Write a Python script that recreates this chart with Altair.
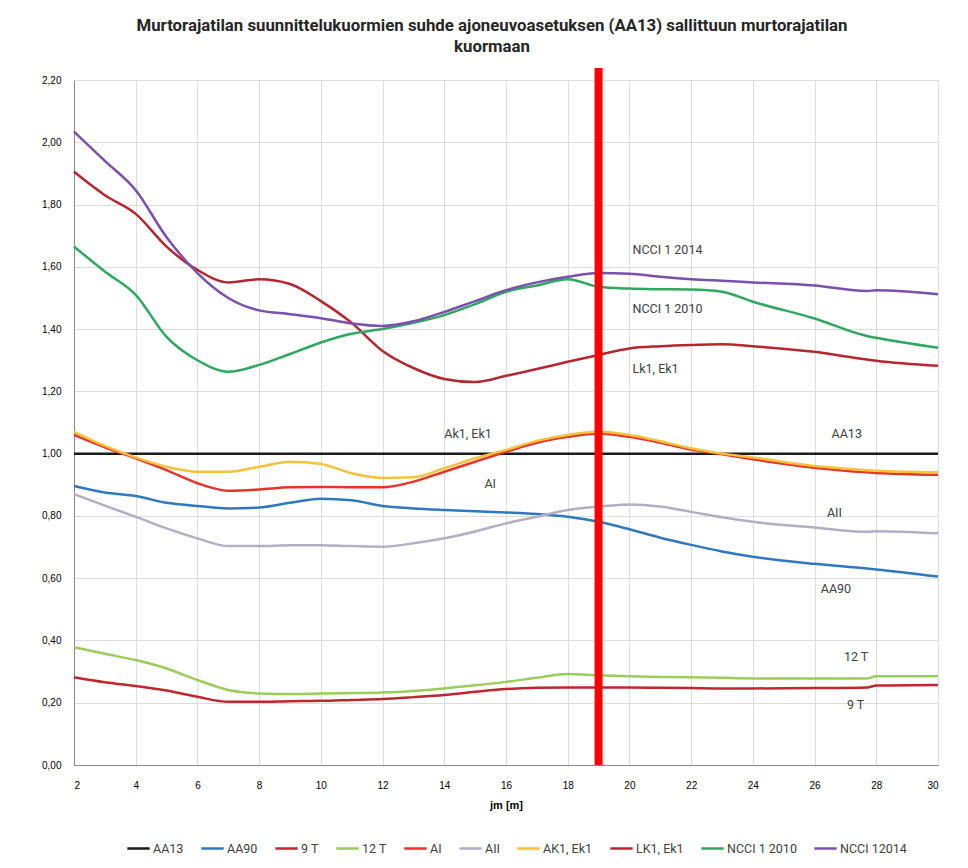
import altair as alt
import pandas as pd

# ---- data ----
x_m = [2, 3, 4, 5, 6, 7, 8, 9, 10, 11, 12, 13, 14, 15, 16, 17, 18, 19, 20, 21, 22, 23, 24, 26, 27.7, 28, 30]

series_names = ["AA13", "AA90", "9 T", "12 T", "AI", "AII", "AK1, Ek1", "LK1, Ek1", "NCCI 1 2010", "NCCI 12014"]
series_colors = ["#1a1a1a", "#2e78c0", "#c0272d", "#9acd5a", "#e8332a", "#b4aec4", "#f7c23a", "#b5262e", "#2ea85f", "#7b4fae"]

aa13 = [1.0] * 27
aa90 = [0.896, 0.875, 0.864, 0.842, 0.832, 0.824, 0.827, 0.842, 0.855, 0.85, 0.832, 0.824, 0.819, 0.815,
        0.811, 0.806, 0.797, 0.781, 0.757, 0.73, 0.707, 0.686, 0.669, 0.646, 0.631, 0.628, 0.605]
t9 = [0.282, 0.266, 0.254, 0.239, 0.219, 0.203, 0.203, 0.205, 0.206, 0.209, 0.212, 0.218, 0.225, 0.235,
      0.244, 0.248, 0.249, 0.249, 0.249, 0.248, 0.247, 0.246, 0.246, 0.247, 0.249, 0.255, 0.257]
t12 = [0.378, 0.357, 0.337, 0.31, 0.273, 0.241, 0.23, 0.228, 0.23, 0.231, 0.233, 0.238, 0.246, 0.256,
       0.267, 0.28, 0.292, 0.288, 0.285, 0.283, 0.282, 0.28, 0.278, 0.278, 0.278, 0.285, 0.285]
ai = [1.06, 1.02, 0.985, 0.947, 0.905, 0.881, 0.885, 0.892, 0.893, 0.892, 0.892, 0.91, 0.942, 0.974,
      1.006, 1.035, 1.054, 1.065, 1.054, 1.035, 1.013, 0.998, 0.982, 0.955, 0.94, 0.938, 0.932]
aii = [0.87, 0.833, 0.797, 0.76, 0.728, 0.703, 0.703, 0.706, 0.706, 0.703, 0.701, 0.712, 0.728, 0.75,
       0.776, 0.797, 0.819, 0.83, 0.837, 0.83, 0.813, 0.796, 0.781, 0.763, 0.749, 0.751, 0.744]
ak1 = [1.07, 1.025, 0.988, 0.958, 0.942, 0.942, 0.958, 0.974, 0.967, 0.937, 0.922, 0.924, 0.953, 0.985,
       1.012, 1.041, 1.06, 1.07, 1.06, 1.04, 1.017, 1.0, 0.988, 0.96, 0.947, 0.945, 0.94]
lk1 = [1.905, 1.83, 1.77, 1.665, 1.59, 1.55, 1.56, 1.545, 1.49, 1.42, 1.33, 1.275, 1.24, 1.23,
       1.25, 1.272, 1.295, 1.317, 1.338, 1.345, 1.349, 1.351, 1.345, 1.327, 1.302, 1.298, 1.282]
ncci2010 = [1.665, 1.585, 1.51, 1.375, 1.3, 1.263, 1.285, 1.32, 1.357, 1.385, 1.40, 1.42, 1.445, 1.48,
            1.52, 1.54, 1.56, 1.536, 1.53, 1.528, 1.527, 1.52, 1.488, 1.434, 1.378, 1.372, 1.34]
ncci2014 = [2.034, 1.94, 1.846, 1.695, 1.58, 1.50, 1.46, 1.448, 1.435, 1.418, 1.41, 1.425, 1.455, 1.49,
            1.525, 1.55, 1.568, 1.58, 1.578, 1.568, 1.56, 1.555, 1.55, 1.54, 1.522, 1.525, 1.512]

series_values = [aa13, aa90, t9, t12, ai, aii, ak1, lk1, ncci2010, ncci2014]

label_texts = ["NCCI 1 2014", "NCCI 1 2010", "Lk1, Ek1", "Ak1, Ek1", "AA13", "AI", "AII", "AA90", "12 T", "9 T"]
label_x = [20.1, 20.1, 20.1, 14.0, 26.55, 15.3, 26.4, 26.2, 26.95, 27.05]
label_y = [1.655, 1.465, 1.272, 1.062, 1.062, 0.902, 0.808, 0.565, 0.347, 0.193]

marker_x = [19]

title_lines = ["Murtorajatilan  suunnittelukuormien suhde ajoneuvoasetuksen (AA13) sallittuun murtorajatilan",
               "kuormaan"]

# ---- build tables ----
rows = []
for si, (name, vals) in enumerate(zip(series_names, series_values)):
    for xv, yv in zip(x_m, vals):
        rows.append({"series": name, "order": si, "jm": xv, "ratio": yv})
df = pd.DataFrame(rows)
labels_df = pd.DataFrame({"text": label_texts, "jm": label_x, "ratio": label_y})
marker_df = pd.DataFrame({"jm": marker_x})

FONT = "Roboto"
W, H = 864, 685

x_scale = alt.Scale(domain=[2, 30], nice=False, zero=False)
y_scale = alt.Scale(domain=[0, 2.2], nice=False)

lines = alt.Chart(df).mark_line(strokeWidth=2.5, interpolate="monotone").encode(
    x=alt.X("jm:Q", scale=x_scale, title="jm [m]",
            axis=alt.Axis(values=list(range(2, 31, 2)), format="d", ticks=False,
                          labelPadding=15, titlePadding=9, grid=True)),
    y=alt.Y("ratio:Q", scale=y_scale, title=None,
            axis=alt.Axis(values=[round(i * 0.2, 1) for i in range(12)],
                          labelExpr="replace(format(datum.value, '.2f'), '.', ',')",
                          ticks=False, labelPadding=13, grid=True)),
    color=alt.Color("series:N", sort=series_names,
                    scale=alt.Scale(domain=series_names, range=series_colors),
                    legend=alt.Legend(title=None, orient="none", direction="horizontal", columns=10,
                                      legendX=52, legendY=756, symbolType="stroke",
                                      symbolStrokeWidth=2.5, symbolSize=500, labelFontSize=12.5,
                                      labelFont=FONT, labelColor="#404040", columnPadding=12,
                                      labelOffset=2)),
    order=alt.Order("order:Q"),
    detail="series:N",
)

texts = alt.Chart(labels_df).mark_text(font=FONT, fontSize=12.5, color="#404040", align="left",
                                        baseline="middle").encode(
    x=alt.X("jm:Q", scale=x_scale),
    y=alt.Y("ratio:Q", scale=y_scale),
    text="text:N",
)

marker = alt.Chart(marker_df).mark_rule(color="#ff0000", strokeWidth=8).encode(
    x=alt.X("jm:Q", scale=x_scale),
    y=alt.value(-12),
    y2=alt.value(H),
)

chart = alt.layer(lines, texts, marker).properties(
    width=W, height=H,
    title=alt.TitleParams(text=title_lines, font=FONT, fontSize=16.8, fontWeight="bold",
                          color="#262626", anchor="middle", offset=8, dx=-14, lineHeight=21),
    autosize=alt.AutoSizeParams(type="none"),
    padding={"left": 66, "top": 72, "right": 22, "bottom": 100},
).configure_view(
    stroke="#d0d0d0"
).configure_axis(
    gridColor="#d0d0d0", gridWidth=1, domainColor="#c8c8c8",
    labelFont=FONT, labelFontSize=13, labelColor="#595959",
    titleFont=FONT, titleFontSize=12.5, titleFontWeight="bold", titleColor="#404040",
).configure(background="white")

chart.save("out.html", embed_options={"renderer": "svg", "actions": False})
